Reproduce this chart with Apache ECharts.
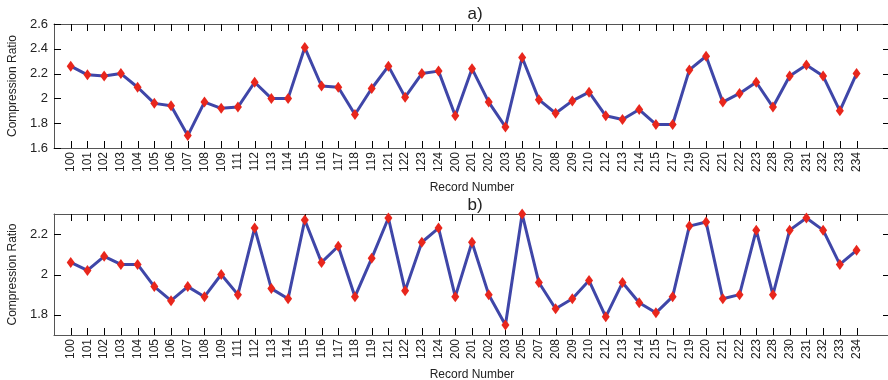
<!DOCTYPE html>
<html>
<head>
<meta charset="utf-8">
<script src="https://cdn.jsdelivr.net/npm/echarts@6/dist/echarts.min.js"></script>
<style>
  html, body { margin: 0; padding: 0; background: #fff; }
  #chart { width: 888px; height: 380px; }
</style>
</head>
<body>
<div id="chart"></div>
<script>
// record numbers (x categories)
var records = ['100','101','102','103','104','105','106','107','108','109','111','112','113','114','115','116',
    '117','118','119','121','122','123','124','200','201','202','203','205','207','208','209','210','212','213',
    '214','215','217','219','220','221','222','223','228','230','231','232','233','234'];
// a) compression ratio
var ratioA = [2.26,2.19,2.18,2.20,2.09,1.96,1.94,1.70,1.97,1.92,1.93,2.13,2.00,2.00,2.41,2.10,
    2.09,1.87,2.08,2.26,2.01,2.20,2.22,1.86,2.24,1.97,1.77,2.33,1.99,1.88,1.98,2.05,1.86,1.83,
    1.91,1.79,1.79,2.23,2.34,1.97,2.04,2.13,1.93,2.18,2.27,2.18,1.90,2.20];
// b) compression ratio
var ratioB = [2.06,2.02,2.09,2.05,2.05,1.94,1.87,1.94,1.89,2.00,1.90,2.23,1.93,1.88,2.27,2.06,
    2.14,1.89,2.08,2.28,1.92,2.16,2.23,1.89,2.16,1.90,1.75,2.30,1.96,1.83,1.88,1.97,1.79,1.96,
    1.86,1.81,1.89,2.24,2.26,1.88,1.90,2.22,1.90,2.22,2.28,2.22,2.05,2.12];
var yTicksA = [1.6, 1.8, 2.0, 2.2, 2.4, 2.6];
var yTicksB = [1.8, 2.0, 2.2];

var xMin = 0, xMax = 50;
var positions = records.map(function (r, i) { return i + 1; });
var toPairs = function (vals) {
    return vals.map(function (v, i) { return [i + 1, v]; });
};

var font = 'Liberation Sans, Arial, sans-serif';
var TICK = 7;

function xAxes(gi) {
    return [{
        type: 'value', gridIndex: gi, position: 'bottom', min: xMin, max: xMax,
        name: 'Record Number', nameLocation: 'middle', nameGap: 34,
        nameTextStyle: { fontFamily: font, fontSize: 12, color: '#222' },
        axisLine: { show: true, onZero: false, lineStyle: { color: '#555' } },
        axisTick: { show: false },
        axisLabel: {
            rotate: 90, margin: 4, fontFamily: font, fontSize: 12, color: '#222',
            customValues: positions,
            formatter: function (v) { return records[Math.round(v) - 1] || ''; }
        },
        splitLine: { show: false }
    }, {
        type: 'value', gridIndex: gi, position: 'top', min: xMin, max: xMax,
        axisLine: { show: true, onZero: false, lineStyle: { color: '#555' } },
        axisTick: { show: false },
        axisLabel: { show: false },
        splitLine: { show: false }
    }];
}

function yAxes(gi, min, max, ticks) {
    return [{
        type: 'value', gridIndex: gi, position: 'left', min: min, max: max,
        name: 'Compression Ratio', nameLocation: 'middle', nameGap: 34,
        nameTextStyle: { fontFamily: font, fontSize: 12, color: '#222' },
        axisLine: { show: true, onZero: false, lineStyle: { color: '#555' } },
        axisTick: { show: false },
        axisLabel: { margin: 6, fontFamily: font, fontSize: 13, color: '#222', customValues: ticks },
        splitLine: { show: false }
    }, {
        type: 'value', gridIndex: gi, position: 'right', min: min, max: max,
        axisLine: { show: true, onZero: false, lineStyle: { color: '#555' } },
        axisTick: { show: false },
        axisLabel: { show: false },
        splitLine: { show: false }
    }];
}

function lineSeries(idx, vals) {
    return {
        type: 'line', xAxisIndex: idx, yAxisIndex: idx, data: toPairs(vals),
        symbol: 'diamond', symbolSize: [8, 11],
        lineStyle: { color: '#3f46a8', width: 3 },
        itemStyle: { color: '#e8261c' },
        z: 3
    };
}

// inward ticks on all four sides, placed through the axis scales
function crisp(v) { return Math.round(v) + 0.5; }
function tickLine(x1, y1, x2, y2) {
    return { type: 'line', shape: { x1: x1, y1: y1, x2: x2, y2: y2 },
             style: { stroke: '#000', lineWidth: 1 } };
}
function xTickSeries(idx, yMin, yMax) {
    return {
        type: 'custom', xAxisIndex: idx, yAxisIndex: idx, silent: true, clip: false, z: 1,
        data: positions.map(function (p) { return [p, yMin]; }),
        renderItem: function (params, api) {
            var bot = api.coord([api.value(0), yMin]);
            var top = api.coord([api.value(0), yMax]);
            var x = crisp(bot[0]);
            return { type: 'group', children: [
                tickLine(x, bot[1], x, bot[1] - TICK),
                tickLine(x, top[1], x, top[1] + TICK)
            ] };
        }
    };
}
function yTickSeries(idx, ticks) {
    return {
        type: 'custom', xAxisIndex: idx, yAxisIndex: idx, silent: true, clip: false, z: 1,
        data: ticks.map(function (t) { return [xMin, t]; }),
        renderItem: function (params, api) {
            var l = api.coord([xMin, api.value(1)]);
            var r = api.coord([xMax, api.value(1)]);
            var y = crisp(l[1]);
            return { type: 'group', children: [
                tickLine(l[0], y, l[0] + TICK, y),
                tickLine(r[0], y, r[0] - TICK, y)
            ] };
        }
    };
}

var chart = echarts.init(document.getElementById('chart'));
chart.setOption({
    animation: false,
    title: [
        { text: 'a)', left: 470, top: 1, textAlign: 'center',
          textStyle: { fontFamily: font, fontSize: 17, fontWeight: 'normal', color: '#222' } },
        { text: 'b)', left: 470, top: 192, textAlign: 'center',
          textStyle: { fontFamily: font, fontSize: 17, fontWeight: 'normal', color: '#222' } }
    ],
    grid: [
        { left: 54, top: 24, width: 836, height: 124, outerBoundsMode: 'none' },
        { left: 54, top: 214, width: 836, height: 121, outerBoundsMode: 'none' }
    ],
    xAxis: xAxes(0).concat(xAxes(1)),
    yAxis: yAxes(0, 1.6, 2.6, yTicksA).concat(yAxes(1, 1.7, 2.3, yTicksB)),
    series: [
        xTickSeries(0, 1.6, 2.6),
        yTickSeries(0, yTicksA),
        xTickSeries(2, 1.7, 2.3),
        yTickSeries(2, yTicksB),
        lineSeries(0, ratioA),
        lineSeries(2, ratioB)
    ]
});
</script>
</body>
</html>
